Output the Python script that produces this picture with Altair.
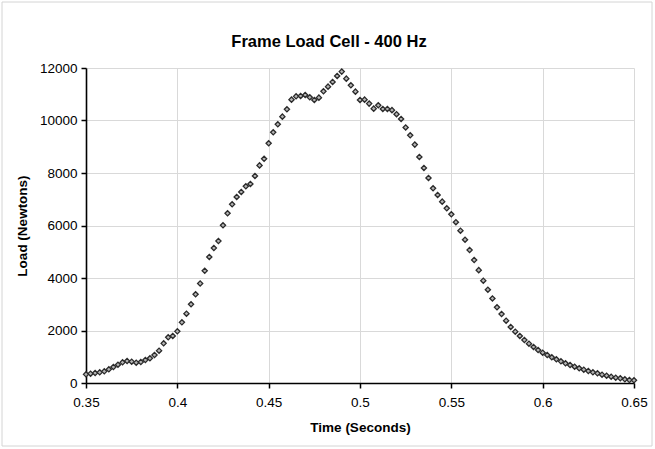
import altair as alt
import pandas as pd

# Sample times (s), 400 Hz sampling
time_s = [
    0.35, 0.3525, 0.355, 0.3575, 0.36, 0.3625, 0.365, 0.3675, 0.37, 0.3725,
    0.375, 0.3775, 0.38, 0.3825, 0.385, 0.3875, 0.39, 0.3925, 0.395, 0.3975,
    0.4, 0.4025, 0.405, 0.4075, 0.41, 0.4125, 0.415, 0.4175, 0.42, 0.4225,
    0.425, 0.4275, 0.43, 0.4325, 0.435, 0.4375, 0.44, 0.4425, 0.445, 0.4475,
    0.45, 0.4525, 0.455, 0.4575, 0.46, 0.4625, 0.465, 0.4675, 0.47, 0.4725,
    0.475, 0.4775, 0.48, 0.4825, 0.485, 0.4875, 0.49, 0.4925, 0.495, 0.4975,
    0.5, 0.5025, 0.505, 0.5075, 0.51, 0.5125, 0.515, 0.5175, 0.52, 0.5225,
    0.525, 0.5275, 0.53, 0.5325, 0.535, 0.5375, 0.54, 0.5425, 0.545, 0.5475,
    0.55, 0.5525, 0.555, 0.5575, 0.56, 0.5625, 0.565, 0.5675, 0.57, 0.5725,
    0.575, 0.5775, 0.58, 0.5825, 0.585, 0.5875, 0.59, 0.5925, 0.595, 0.5975,
    0.6, 0.6025, 0.605, 0.6075, 0.61, 0.6125, 0.615, 0.6175, 0.62, 0.6225,
    0.625, 0.6275, 0.63, 0.6325, 0.635, 0.6375, 0.64, 0.6425, 0.645, 0.6475,
    0.65,
]

# Load (N)
load_n = [
    330, 356, 381, 406, 444, 520, 610, 698, 787, 838,
    813, 775, 800, 876, 940, 1067, 1232, 1511, 1740, 1791,
    1968, 2311, 2642, 2997, 3378, 3790, 4275, 4801, 5143, 5410,
    6007, 6464, 6807, 7087, 7277, 7493, 7582, 7887, 8290, 8540,
    9131, 9550, 9855, 10147, 10426, 10795, 10920, 10935, 10973, 10884,
    10782, 10871, 11112, 11290, 11468, 11697, 11862, 11595, 11341, 11100,
    10782, 10795, 10643, 10452, 10579, 10439, 10439, 10395, 10240, 10060,
    9735, 9436, 9081, 8611, 8192, 7811, 7417, 7163, 6909, 6655,
    6426, 6125, 5804, 5460, 5067, 4686, 4300, 3899, 3555, 3220,
    2883, 2629, 2375, 2134, 1956, 1791, 1638, 1499, 1372, 1257,
    1156, 1067, 978, 902, 825, 749, 686, 622, 559, 508,
    457, 406, 368, 318, 279, 241, 203, 178, 140, 114,
    102,
]

x_ticks = [0.35, 0.4, 0.45, 0.5, 0.55, 0.6, 0.65]
y_ticks = [0, 2000, 4000, 6000, 8000, 10000, 12000]

FONT = "Liberation Sans"

df = pd.DataFrame({"time": time_s, "load": load_n})

points = alt.Chart(df).mark_point(
    shape="diamond",
    filled=True,
    fill="#b5b5b5",
    stroke="#2b2b2b",
    strokeWidth=1.3,
    size=27,
    opacity=1,
    fillOpacity=1,
).encode(
    x=alt.X(
        "time:Q",
        scale=alt.Scale(domain=[0.35, 0.65], nice=False, zero=False),
        axis=alt.Axis(values=x_ticks, format="~g", title="Time (Seconds)",
                      labelPadding=7, titlePadding=12, labelFlush=False),
    ),
    y=alt.Y(
        "load:Q",
        scale=alt.Scale(domain=[0, 12000], nice=False),
        axis=alt.Axis(values=y_ticks, format="d", title="Load (Newtons)",
                      labelPadding=4, titlePadding=10),
    ),
)

border = alt.Chart(alt.Data(values=[{"a": 1}])).mark_rect(
    fill="transparent", stroke="#d4d4d4", strokeWidth=1
).encode(
    x=alt.value(-84), x2=alt.value(566), y=alt.value(-66), y2=alt.value(378)
)

chart = alt.layer(border, points).properties(
    width=548,
    height=315,
    autosize=alt.AutoSizeParams(type="none"),
    padding={"left": 86, "top": 68, "right": 21, "bottom": 66},
    background="white",
    title=alt.TitleParams(
        "Frame Load Cell - 400 Hz",
        font=FONT, fontSize=16.5, fontWeight="bold", color="black",
        anchor="middle", frame="group", dx=-31, offset=-65, baseline="bottom",
    ),
).configure_view(stroke=None).configure_axis(
    domainColor="black", domainWidth=1.6,
    tickColor="black", tickSize=5, tickWidth=1.5,
    gridColor="#d9d9d9", gridWidth=1,
    labelFont=FONT, labelFontSize=13.5, labelColor="black",
    titleFont=FONT, titleFontSize=13.5, titleFontWeight="bold", titleColor="black",
)

chart.save("out.html", embed_options={"renderer": "svg", "actions": False})
